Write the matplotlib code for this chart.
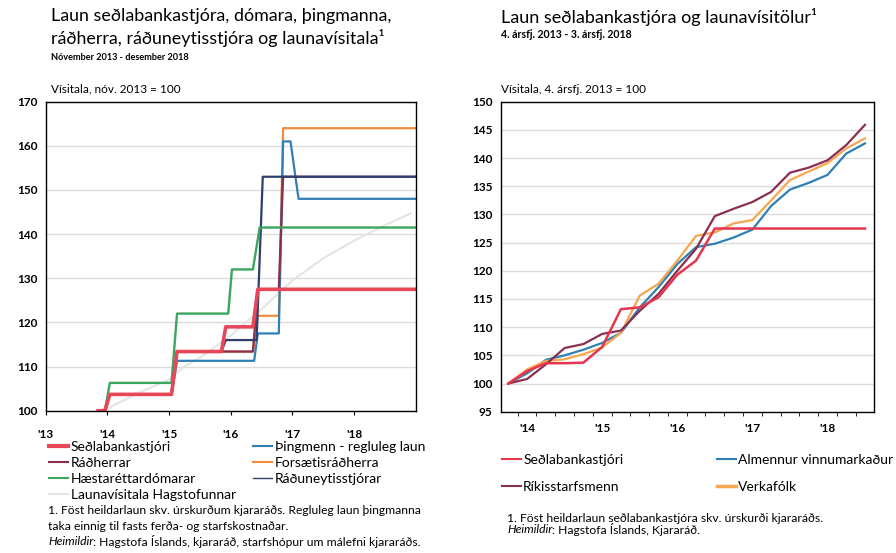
"""Laun seðlabankastjóra o.fl. - two-panel index chart."""
import matplotlib
matplotlib.use("Agg")
import matplotlib.pyplot as plt
from matplotlib.lines import Line2D

plt.rcParams["font.family"] = ["Lato", "DejaVu Sans"]

# ---- left panel: step series, decimal years ----
sedla_t = [2013.85, 2013.96, 2014.04, 2015.04, 2015.13, 2015.85, 2015.92, 2016.36, 2016.44, 2019.0]
sedla_v = [100, 100, 103.7, 103.7, 113.4, 113.4, 119.0, 119.0, 127.5, 127.5]

radh_t = [2013.85, 2013.96, 2014.04, 2015.04, 2015.13, 2016.36, 2016.44, 2016.78, 2016.85, 2019.0]
radh_v = [100, 100, 103.7, 103.7, 113.4, 113.4, 127.5, 127.5, 153.0, 153.0]

haest_t = [2013.85, 2013.96, 2014.04, 2015.04, 2015.13, 2015.96, 2016.02, 2016.36, 2016.47, 2019.0]
haest_v = [100, 100, 106.3, 106.3, 122.0, 122.0, 132.0, 132.0, 141.5, 141.5]

thing_t = [2013.85, 2013.96, 2014.04, 2015.04, 2015.13, 2016.38, 2016.44, 2016.78, 2016.85, 2016.97, 2017.1, 2019.0]
thing_v = [100, 100, 103.7, 103.7, 111.3, 111.3, 117.5, 117.5, 161.0, 161.0, 148.0, 148.0]

forsr_t = [2013.85, 2013.96, 2014.04, 2015.04, 2015.13, 2016.36, 2016.44, 2016.78, 2016.85, 2019.0]
forsr_v = [100, 100, 103.7, 103.7, 113.4, 113.4, 121.5, 121.5, 164.0, 164.0]

radun_t = [2013.85, 2013.96, 2014.04, 2015.04, 2015.13, 2015.85, 2015.92, 2016.42, 2016.52, 2019.0]
radun_v = [100, 100, 103.7, 103.7, 113.4, 113.4, 116.0, 116.0, 153.0, 153.0]

lvh_t = [2013.83, 2014.0, 2014.5, 2015.0, 2015.25, 2015.5, 2016.0, 2016.5, 2017.0, 2017.5, 2018.0, 2018.5, 2018.92]
lvh_v = [100, 100.5, 104.0, 107.0, 110.0, 112.0, 117.0, 123.0, 129.5, 134.5, 138.5, 142.0, 144.7]

left_years = [2013, 2014, 2015, 2016, 2017, 2018]
left_year_labels = ["'13", "'14", "'15", "'16", "'17", "'18"]

# ---- right panel: quarterly, 4. ársfj. 2013 - 3. ársfj. 2018 ----
quarters = list(range(20))
q_sedla = [100, 102.2, 103.6, 103.6, 103.7, 106.5, 113.2, 113.5, 115.3, 119.3, 121.8,
           127.5, 127.5, 127.5, 127.5, 127.5, 127.5, 127.5, 127.5, 127.5]
q_rikis = [100, 100.8, 103.4, 106.3, 107.0, 108.8, 109.4, 112.9, 115.9, 120.0, 123.9,
           129.7, 131.0, 132.2, 134.0, 137.4, 138.3, 139.6, 142.3, 145.9]
q_almenn = [100, 101.8, 104.2, 105.0, 106.0, 107.2, 109.0, 113.5, 117.1, 121.2, 124.2,
            124.8, 125.9, 127.3, 131.5, 134.4, 135.6, 137.0, 140.8, 142.6]
q_verka = [100, 102.5, 104.0, 104.3, 105.2, 106.4, 109.0, 115.6, 117.7, 121.8, 126.2,
           126.8, 128.4, 129.0, 132.5, 136.1, 137.6, 139.1, 141.7, 143.5]
q_label_pos = [1, 5, 9, 13, 17]
q_labels = ["'14", "'15", "'16", "'17", "'18"]

RED = "#e8475a"
MAROON = "#8a2f50"
GREEN = "#3aa65e"
BLUE = "#2f80b5"
ORANGE = "#f28c3c"
NAVY = "#2e3f6e"
GREY = "#e4e4e4"
R_RED = "#e5364f"
R_ORANGE = "#f7a650"

W, H = 896, 553
fig = plt.figure(figsize=(W / 100, H / 100), dpi=100)


def fx(px):
    return px / W


def fy(py):
    return 1 - py / H


def style_axes(ax):
    for s in ax.spines.values():
        s.set_color("black")
        s.set_linewidth(1.0)
    ax.grid(axis="y", color="#dcdcdc", linewidth=1.0)
    ax.set_axisbelow(True)
    ax.tick_params(axis="y", length=0, pad=6, labelsize=8.5)
    for lab in ax.get_yticklabels():
        lab.set_fontweight("bold")


# ---------------- left panel ----------------
axl = fig.add_axes([fx(45.7), fy(410.7), fx(370), 309 / H])
axl.plot(lvh_t, lvh_v, color=GREY, lw=1.5)
axl.plot(forsr_t, forsr_v, color=ORANGE, lw=1.6)
axl.plot(thing_t, thing_v, color=BLUE, lw=1.6)
axl.plot(radh_t, radh_v, color=MAROON, lw=1.6)
axl.plot(radun_t, radun_v, color=NAVY, lw=1.6)
axl.plot(haest_t, haest_v, color=GREEN, lw=1.7)
axl.plot(sedla_t, sedla_v, color=RED, lw=2.6)
axl.set_xlim(2013, 2019)
axl.set_ylim(100, 170)
axl.set_yticks(range(100, 171, 10))
axl.set_xticks(left_years)
axl.set_xticklabels(left_year_labels, fontsize=8.5, fontweight="bold")
axl.tick_params(axis="x", length=3, pad=10)
style_axes(axl)

# ---------------- right panel ----------------
axr = fig.add_axes([fx(501), fy(411.7), fx(373), 310 / H])
axr.plot(quarters, q_almenn, color=BLUE, lw=1.6)
axr.plot(quarters, q_verka, color=R_ORANGE, lw=1.6)
axr.plot(quarters, q_rikis, color=MAROON, lw=1.6)
axr.plot(quarters, q_sedla, color=R_RED, lw=1.8)
axr.set_xlim(-0.39, 19.48)
axr.set_ylim(95, 150)
axr.set_yticks(range(95, 151, 5))
axr.set_xticks(q_label_pos)
axr.set_xticklabels(q_labels, fontsize=8.5, fontweight="bold")
axr.set_xticks([q + 0.5 for q in quarters[:-1]], minor=True)
axr.tick_params(axis="x", which="major", length=0, pad=8)
axr.tick_params(axis="x", which="minor", length=3)
style_axes(axr)

# ---------------- titles ----------------
fig.text(fx(51), fy(16), "Laun seðlabankastjóra, dómara, þingmanna,", fontsize=12.9, va="center")
fig.text(fx(51), fy(38), "ráðherra, ráðuneytisstjóra og launavísitala¹", fontsize=12.9, va="center")
fig.text(fx(51), fy(58), "Nóvember 2013 - desember 2018", fontsize=6.6, fontweight="bold", va="center")
fig.text(fx(51), fy(88.5), "Vísitala, nóv. 2013 = 100", fontsize=8.5, va="center")

fig.text(fx(501), fy(16.7), "Laun seðlabankastjóra og launavísitölur¹", fontsize=13, va="center")
fig.text(fx(501), fy(35), "4. ársfj. 2013 - 3. ársfj. 2018", fontsize=7.6, fontweight="bold", va="center")
fig.text(fx(501), fy(89.3), "Vísitala, 4. ársfj. 2013 = 100", fontsize=8.5, va="center")


# ---------------- legends ----------------
def add_legend(handles, labels, x_px, y_px, spacing):
    fig.legend(handles, labels, loc="upper left", bbox_to_anchor=(fx(x_px), fy(y_px)),
               bbox_transform=fig.transFigure, frameon=False, fontsize=10,
               handlelength=1.4, handletextpad=0.15, borderpad=0, borderaxespad=0,
               labelspacing=spacing)


add_legend([Line2D([], [], color=RED, lw=3), Line2D([], [], color=MAROON, lw=1.5),
            Line2D([], [], color=GREEN, lw=1.5), Line2D([], [], color=GREY, lw=1.5)],
           ["Seðlabankastjóri", "Ráðherrar", "Hæstaréttardómarar", "Launavísitala Hagstofunnar"],
           49, 441, 0.28)
add_legend([Line2D([], [], color=BLUE, lw=1.5), Line2D([], [], color=ORANGE, lw=1.5),
            Line2D([], [], color=NAVY, lw=1.0)],
           ["Þingmenn - regluleg laun", "Forsætisráðherra", "Ráðuneytisstjórar"],
           253, 441, 0.28)
add_legend([Line2D([], [], color=R_RED, lw=1.5), Line2D([], [], color=MAROON, lw=1.5)],
           ["Seðlabankastjóri", "Ríkisstarfsmenn"], 501.7, 454, 1.05)
add_legend([Line2D([], [], color=BLUE, lw=1.5), Line2D([], [], color=R_ORANGE, lw=2.5)],
           ["Almennur vinnumarkaður", "Verkafólk"], 716.7, 454, 1.05)

# ---------------- footnotes ----------------
FN = 8.7
renderer = fig.canvas.get_renderer()


def source_line(x_px, y_px, rest):
    t = fig.text(fx(x_px), fy(y_px), "Heimildir", fontsize=FN, style="italic", va="center")
    x1 = fig.transFigure.inverted().transform(t.get_window_extent(renderer).p1)[0]
    fig.text(x1, fy(y_px), ": " + rest, fontsize=FN, va="center")


fig.text(fx(48), fy(510), "1. Föst heildarlaun skv. úrskurðum kjararáðs. Regluleg laun þingmanna",
         fontsize=FN, va="center")
fig.text(fx(48), fy(526), "taka einnig til fasts ferða- og starfskostnaðar.", fontsize=FN, va="center")
source_line(48, 541.7, "Hagstofa Íslands, kjararáð, starfshópur um málefni kjararáðs.")

fig.text(fx(507), fy(518.3), "1. Föst heildarlaun seðlabankastjóra skv. úrskurði kjararáðs.",
         fontsize=FN, va="center")
source_line(507, 529.5, "Hagstofa Íslands, Kjararáð.")

fig.savefig("out.png", dpi=100)
